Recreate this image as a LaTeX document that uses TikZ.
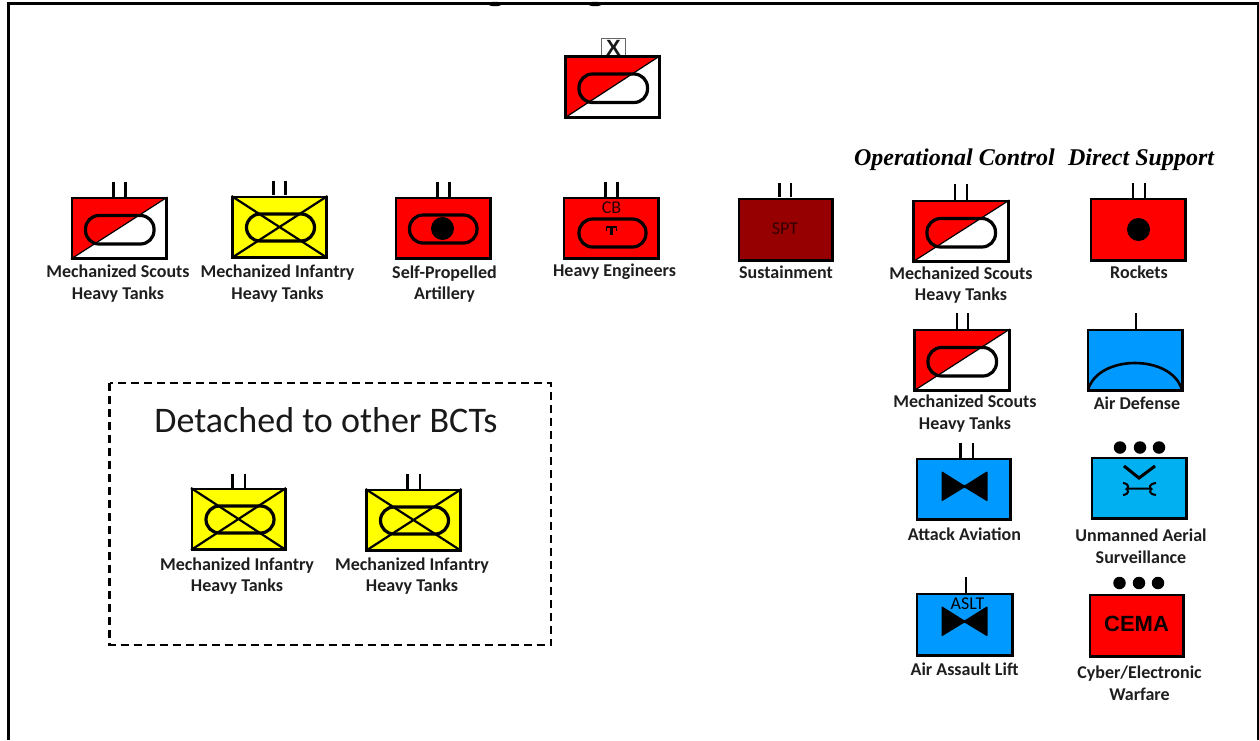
\documentclass[tikz,border=0pt]{standalone}
\usepackage{fontspec}
\setmainfont{Carlito}
\newfontfamily\serifbi{Liberation Serif}
\newfontfamily\arialb{Liberation Sans}
\definecolor{milred}{RGB}{255,0,0}
\definecolor{milyellow}{RGB}{255,255,0}
\definecolor{milblue}{RGB}{0,153,255}
\definecolor{milcyan}{RGB}{0,176,240}
\definecolor{mildark}{RGB}{150,0,0}
\definecolor{labelgrey}{RGB}{30,30,30}
\tikzset{
  ovalshape/.style={draw=black,line width=3.2pt,rounded corners=13.5pt},
  tick/.style={draw=black,line width=2.4pt},
  lbl/.style={font=\fontsize{18}{21.7}\selectfont\bfseries,text=labelgrey,align=center,inner sep=0pt},
  inbox/.style={font=\fontsize{18}{18}\selectfont\bfseries,text=black!85!red,inner sep=0pt},
  head/.style={font=\serifbi\fontsize{24}{26}\selectfont\bfseries\itshape,inner sep=0pt},
  echelondot/.style={fill=black,draw=none,circle,minimum size=12.5pt,inner sep=0pt}
}
% #1 name, #2 x0, #3 y0, #4 x1, #5 y1, #6 fill
\newcommand{\ubox}[6]{%
  \fill[#6] (#2,#3) rectangle (#4,#5);
  \node[draw=black,line width=2.8pt,rectangle,inner sep=0pt,minimum width={#4pt-#2pt-1.8pt},minimum height={#5pt-#3pt-1.8pt}] (#1) at ({(#2+#4)/2},{(#3+#5)/2}) {};
}
\newcommand{\ticks}[4]{%
  \coordinate (#1t1) at (#2,#4); \coordinate (#1t2) at (#3,#4);
  \draw[tick] (#1t1) -- (#2,\ybot);
  \draw[tick] (#1t2) -- (#3,\ybot);
}
\newcommand{\scoutbox}[5]{%
  \fill[white] (#2,#3) rectangle (#4,#5);
  \fill[milred] (#2,#5) -- (#2,#3) -- (#4,#3) -- cycle;
  \draw[black,line width=1.2pt] (#2,#5) -- (#4,#3);
  \draw[ovalshape] ({#2+14.5},{#3+18.5}) rectangle ({#2+83},{#3+47});
  \node[draw=black,line width=2.8pt,rectangle,inner sep=0pt,minimum width={#4pt-#2pt-1.8pt},minimum height={#5pt-#3pt-1.8pt}] (#1) at ({(#2+#4)/2},{(#3+#5)/2}) {};
}
\newcommand{\infbox}[5]{%
  \fill[milyellow] (#2,#3) rectangle (#4,#5);
  \draw[black,line width=2.2pt] (#2,#5) -- (#4,#3) (#2,#3) -- (#4,#5);
  \draw[ovalshape] ({#2+15},{#3+18}) rectangle ({#2+83},{#3+45});
  \node[draw=black,line width=2.8pt,rectangle,inner sep=0pt,minimum width={#4pt-#2pt-1.8pt},minimum height={#5pt-#3pt-1.8pt}] (#1) at ({(#2+#4)/2},{(#3+#5)/2}) {};
}
\newcommand{\bowfig}[2]{%
  \fill[black,rounded corners=1pt] ({#1-23},{#2-15.5}) -- (#1,{#2-1}) -- ({#1+23},{#2-15.5}) -- ({#1+23},{#2+15}) -- (#1,{#2+1}) -- ({#1-23},{#2+15}) -- cycle;
}
\begin{document}
\begin{tikzpicture}[x=1pt,y=-1pt]
\useasboundingbox (0,0) rectangle (1259,740);
\fill[white] (0,0) rectangle (1259,740);
% page frame
\coordinate (frTL) at (8.5,3.5); \coordinate (frTR) at (1258,3.5);
\coordinate (frBL) at (8.5,740); \coordinate (frBR) at (1258,740);
\draw[black,line width=3pt] (frBL) -- (frTL) -- (frTR) -- (frBR);
\fill[black] (495,4) ellipse (7 and 2.2);
\fill[black] (595,4) ellipse (7 and 2.2);

% HQ
\node[draw=black!60,line width=.9pt,rectangle,inner sep=0pt,minimum width=24pt,minimum height=18pt] (xbox) at (613.5,47) {};
\node[font=\arialb\fontsize{22}{22}\selectfont\bfseries,inner sep=0pt,text=black!90] (xlab) at (613.5,47.5) {X};
\scoutbox{hq}{564.5}{55.5}{660.5}{118}

% row 1
\def\ybot{197}
\scoutbox{sa}{71}{197}{167.5}{259}
\ticks{sa}{113.5}{125.5}{182}
\node[lbl] (sal) at (118,283.5) {Mechanized Scouts\\Heavy Tanks};

\def\ybot{195}
\infbox{ib}{231.5}{196}{327.5}{258}
\ticks{ib}{273.5}{285.5}{181}
\node[lbl] (ibl) at (277.5,283.5) {Mechanized Infantry\\Heavy Tanks};

\def\ybot{197}
\ubox{art}{395}{197}{491.5}{259}{milred}
\ticks{art}{437.5}{449.5}{182}
\draw[ovalshape] (409.5,215) rectangle (477,243);
\node[echelondot,minimum size=23pt] (artd) at (442.5,228.5) {};
\node[lbl] (artl) at (444.5,284) {Self-Propelled\\Artillery};

\ubox{eng}{563}{197}{659}{259}{milred}
\ticks{eng}{605.5}{617.5}{182}
\draw[ovalshape] (579,219) rectangle (646,247);
\node[inbox,font=\fontsize{18}{18}\selectfont] (engt) at (611.5,208) {CB};
\draw[black,line width=1.8pt] (605.5,227) -- (617,227);
\draw[black,line width=2.4pt] (611.5,227) -- (611.5,235);
\draw[black,line width=1.4pt] (606.5,227) -- (606.5,231) (616.5,227) -- (616.5,231);
\node[lbl] (engl) at (614.5,271.5) {Heavy Engineers};

\ubox{spt}{738}{198}{833}{261}{mildark}
\ticks{spt}{779.5}{791}{183}
\node[font=\fontsize{18}{18}\selectfont,text=black!80!red,inner sep=0pt] (sptt) at (785,228.5) {SPT};
\node[lbl] (sptl) at (786,272.5) {Sustainment};

\def\ybot{200}
\scoutbox{op}{912.5}{200}{1009.5}{262}
\ticks{op}{955}{967}{184}
\node[lbl] (opl) at (961,285) {Mechanized Scouts\\Heavy Tanks};

\def\ybot{198}
\ubox{roc}{1090}{198}{1186}{261}{milred}
\ticks{roc}{1133}{1145}{183}
\node[echelondot,minimum size=23pt] (rocd) at (1138.5,229.5) {};
\node[lbl] (rocl) at (1139,272.5) {Rockets};

\node[head] (oph) at (954.5,160) {Operational Control};
\node[head] (dsh) at (1141,160) {Direct Support};

% row 2
\def\ybot{329}
\scoutbox{op2}{913.5}{329}{1010}{391}
\ticks{op2}{957}{968}{313}
\node[lbl] (op2l) at (965,413.5) {Mechanized Scouts\\Heavy Tanks};

\ubox{ad}{1087}{329}{1183}{391}{milblue}
\coordinate (adt) at (1136,313);
\draw[tick] (adt) -- (ad.north -| adt);
\draw[black,line width=2.6pt] (1088,390) .. controls (1098,354) and (1172,354) .. (1182,390);
\node[lbl] (adl) at (1137,403) {Air Defense};

% row 3
\def\ybot{458}
\ubox{att}{916}{458}{1011}{520}{milblue}
\ticks{att}{960.5}{973}{443}
\bowfig{964.5}{486.5}
\node[lbl] (attl) at (964.5,534) {Attack Aviation};

\ubox{uav}{1091}{457}{1187}{519}{milcyan}
\node[echelondot] (uav1) at (1120,447.5) {};
\node[echelondot] (uav2) at (1140,447.5) {};
\node[echelondot] (uav3) at (1159,447.5) {};
\draw[black,line width=3pt] (1124,466) -- (1139,478) -- (1155,466);
\draw[black,line width=2pt] (1123,483) .. controls (1130,484) and (1128,488) .. (1127,488.5) -- (1151,488.5) .. controls (1150,488) and (1148,484) .. (1156,483);
\draw[black,line width=2pt] (1123,495) .. controls (1130,494) and (1128,490) .. (1127,488.5) (1151,488.5) .. controls (1150,490) and (1148,494) .. (1156,495);
\node[lbl] (uavl) at (1141,546) {Unmanned Aerial\\Surveillance};

% row 4
\ubox{aslt}{916}{593}{1013}{656}{milblue}
\coordinate (aslttop) at (966,577);
\draw[tick] (aslttop) -- (aslt.north -| aslttop);
\bowfig{964.5}{621.5}
\node[font=\fontsize{18}{18}\selectfont,text=black,inner sep=0pt] (asltt) at (967.5,604) {ASLT};
\node[lbl] (asltl) at (964.5,669.5) {Air Assault Lift};

\ubox{cema}{1089}{594}{1184}{657}{milred}
\node[echelondot] (cem1) at (1119.5,583) {};
\node[echelondot] (cem2) at (1139,583) {};
\node[echelondot] (cem3) at (1158,583) {};
\node[font=\arialb\fontsize{22}{22}\selectfont\bfseries,text=black!95!red,inner sep=0pt] (cemat) at (1136.5,624) {CEMA};
\node[lbl] (cemal) at (1139.5,683) {Cyber/Electronic\\Warfare};

% detached
\draw[black,line width=2.4pt,dash pattern=on 8pt off 5pt] (109.5,383) rectangle (551,645);
\node[font=\fontsize{36}{38}\selectfont,text=black!90,inner sep=0pt] (dett) at (326,420.5) {Detached to other BCTs};
\def\ybot{488}
\infbox{d1}{191}{488}{286}{550}
\ticks{d1}{232.5}{245}{474}
\node[lbl] (d1l) at (237,576) {Mechanized Infantry\\Heavy Tanks};
\def\ybot{489}
\infbox{d2}{365.5}{489}{461.5}{551}
\ticks{d2}{407.5}{420}{474}
\node[lbl] (d2l) at (412,576) {Mechanized Infantry\\Heavy Tanks};
\end{tikzpicture}
\end{document}
